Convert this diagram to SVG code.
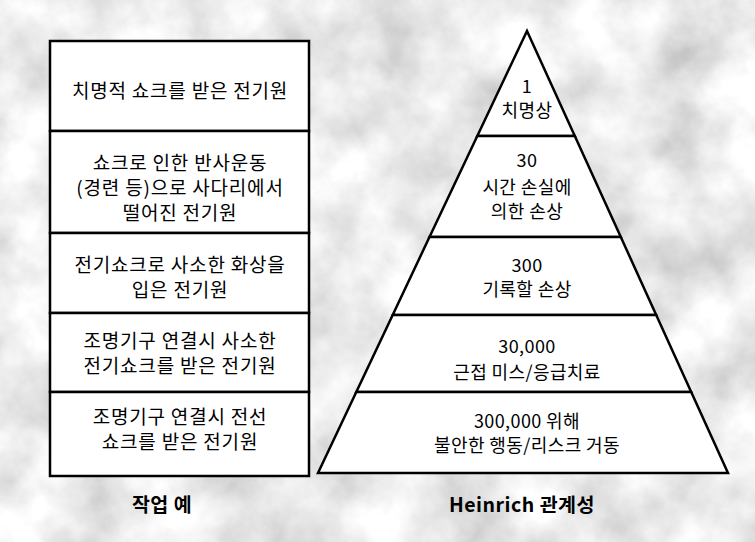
<svg xmlns="http://www.w3.org/2000/svg" width="755" height="542" viewBox="0 0 755 542">
<defs>
<filter id="tex" x="0" y="0" width="755" height="542" filterUnits="userSpaceOnUse">
<feTurbulence type="fractalNoise" baseFrequency="0.014" numOctaves="5" seed="7" result="n"/>
<feColorMatrix in="n" type="matrix" values="0.75 0 0 0 0.46  0.75 0 0 0 0.46  0.75 0 0 0 0.46  0 0 0 0 1"/>
</filter>
<style>
.box{fill:#fff;stroke:#000;stroke-width:2.5}
.t{font-family:"Noto Sans CJK KR","Noto Sans",sans-serif;font-size:19px;letter-spacing:0.8px;fill:#000;text-anchor:middle}
.p{font-family:"Noto Sans CJK KR","Noto Sans",sans-serif;font-size:18px;letter-spacing:0.4px;fill:#000;text-anchor:middle}
.cap{font-family:"Noto Sans CJK KR","Noto Sans",sans-serif;font-size:19.5px;font-weight:bold;letter-spacing:0.5px;fill:#000;text-anchor:middle}
</style>
</defs>
<rect x="0" y="0" width="755" height="542" fill="#d0d0d0"/>
<rect x="0" y="0" width="755" height="542" filter="url(#tex)"/>

<g id="box1"><rect class="box" x="50" y="41" width="259" height="90"/>
<text class="t" x="180" y="98">치명적 쇼크를 받은 전기원</text></g>
<g id="box2"><rect class="box" x="50" y="131" width="259" height="102"/>
<text class="t" x="180" y="170">쇼크로 인한 반사운동</text>
<text class="t" x="180" y="195">(경련 등)으로 사다리에서</text>
<text class="t" x="180" y="220">떨어진 전기원</text></g>
<g id="box3"><rect class="box" x="50" y="233" width="259" height="80"/>
<text class="t" x="180" y="272">전기쇼크로 사소한 화상을</text>
<text class="t" x="180" y="297">입은 전기원</text></g>
<g id="box4"><rect class="box" x="50" y="313" width="259" height="79"/>
<text class="t" x="180" y="348">조명기구 연결시 사소한</text>
<text class="t" x="180" y="373">전기쇼크를 받은 전기원</text></g>
<g id="box5"><rect class="box" x="50" y="392" width="259" height="84"/>
<text class="t" x="180" y="424">조명기구 연결시 전선</text>
<text class="t" x="180" y="449">쇼크를 받은 전기원</text></g>
<g id="label-left"><text class="cap" x="162" y="512">작업 예</text></g>

<g id="level1"><polygon class="box" points="527,31 574.8,136 477.3,136"/>
<text class="p" x="527" y="93">1</text>
<text class="p" x="527" y="117">치명상</text></g>
<g id="level2"><polygon class="box" points="477.3,136 574.8,136 620.8,237 429.5,237"/>
<text class="p" x="527" y="167">30</text>
<text class="p" x="527" y="194">시간 손실에</text>
<text class="p" x="527" y="218">의한 손상</text></g>
<g id="level3"><polygon class="box" points="429.5,237 620.8,237 656.2,315 392.7,315"/>
<text class="p" x="527" y="272">300</text>
<text class="p" x="527" y="296">기록할 손상</text></g>
<g id="level4"><polygon class="box" points="392.7,315 656.2,315 691.2,392 356.3,392"/>
<text class="p" x="527" y="353">30,000</text>
<text class="p" x="527" y="379">근접 미스/응급치료</text></g>
<g id="level5"><polygon class="box" points="356.3,392 691.2,392 728,473 318,473"/>
<text class="p" x="527" y="428">300,000 위해</text>
<text class="p" x="527" y="452">불안한 행동/리스크 거동</text></g>
<g id="label-right"><text class="cap" x="522" y="512">Heinrich 관계성</text></g>
<g id="connectors"/>
</svg>
